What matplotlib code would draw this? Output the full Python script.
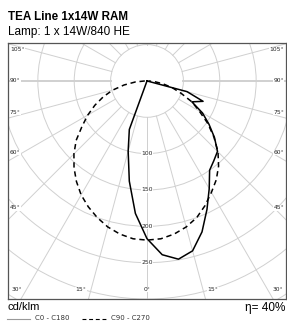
import numpy as np
import matplotlib.pyplot as plt
from matplotlib.patches import Circle
from matplotlib.lines import Line2D

# angulos gamma, en grados desde la vertical hacia abajo
angulos = np.arange(0, 95, 5)
c0 = [217, 240, 249, 242, 221, 195, 171, 150, 143, 137, 121, 104, 88, 68, 82, 57, 0, 0, 0]
c180 = [217, 183, 140, 100, 71, 0, 0, 0, 0, 0, 0, 0, 0, 0, 0, 0, 0, 0, 0]
c90 = [219, 218, 214, 208, 200, 189, 177, 166, 153, 138, 120, 102, 83, 68, 50, 36, 22, 10, 2]
c270 = [219, 218, 214, 208, 200, 191, 181, 169, 156, 142, 127, 109, 94, 79, 64, 49, 32, 16, 3]

anillos = [50, 100, 150, 200, 250, 300, 350]
etiquetas_r = [100, 150, 200, 250]
etiquetas_ang = [0, 15, 30, 45, 60, 75, 90, 105]

titulo = "TEA Line 1x14W RAM"
subtitulo = "Lamp: 1 x 14W/840 HE"
unidad = "cd/klm"
leyenda = ["C0 - C180", "C90 - C270"]
rendimiento = "\u03b7= 40%"

gris = "#d0d0d0"
k = 0.7277  # px por cd/klm
W, H = 287, 324


def to_xy(ang, r, lado):
    a = np.radians(np.asarray(ang, dtype=float))
    r = np.asarray(r, dtype=float)
    return lado * r * np.sin(a), -r * np.cos(a)


fig = plt.figure(figsize=(W / 100, H / 100), dpi=100)
ax = fig.add_axes([8 / W, 25 / H, 278 / W, 256 / H])
ax.set_xlim(-191, 191)
ax.set_ylim(-300, 52.2)
ax.set_xticks([])
ax.set_yticks([])
for s in ax.spines.values():
    s.set_color("#555555")
    s.set_linewidth(0.9)

# rejilla
for r in anillos:
    ax.add_patch(Circle((0, 0), r, fill=False, ec=gris, lw=0.7, zorder=1))
for g in range(0, 181, 15):
    for lado in (-1, 1):
        x, y = to_xy([g, g], [50, 400], lado)
        ax.plot(x, y, color=gris, lw=1.4 if g == 90 else 0.7, zorder=1)

for r in etiquetas_r:
    ax.text(0, -r, str(r), fontsize=4.3, ha="center", va="center", color="#222222",
            bbox=dict(fc="white", ec="none", pad=0.2), zorder=3)

# etiquetas de angulos
px = 1 / k
for g in etiquetas_ang:
    for lado in (-1, 1):
        if g == 0 and lado == 1:
            continue
        lab = "%d\u00b0" % g
        if g <= 30:
            yb = -(290 - 81) * px
            xb = 0 if g == 0 else -yb * np.tan(np.radians(g)) + 10 * px
            ax.text(lado * xb, yb, lab, fontsize=4.3, ha="center", va="center",
                    color="#222222", bbox=dict(fc="white", ec="none", pad=0.2), zorder=3)
        else:
            xl = 131 * px
            yl = -xl / np.tan(np.radians(g))
            if g < 90:
                yl += 4 * px
            elif g > 90:
                yl -= 4 * px
            ax.text(lado * 188.5, yl, lab, fontsize=4.3, ha="left" if lado < 0 else "right",
                    va="center", color="#222222", bbox=dict(fc="white", ec="none", pad=0.2), zorder=3)

# curvas
xa, ya = to_xy(angulos[::-1], c180[::-1], -1)
xb, yb = to_xy(angulos, c0, 1)
ax.plot(np.r_[xa, xb], np.r_[ya, yb], color="black", lw=1.1, zorder=5)
xa, ya = to_xy(angulos[::-1], c270[::-1], -1)
xb, yb = to_xy(angulos, c90, 1)
ax.plot(np.r_[xa, xb], np.r_[ya, yb], color="black", lw=1.1, ls=(0, (3.5, 2.5)), zorder=4)

# textos
fig.text(8 / W, 1 - 20.5 / H, titulo, fontsize=8.4, fontweight="bold", va="baseline",
         family="Liberation Sans")
fig.text(8 / W, 1 - 35 / H, subtitulo, fontsize=8.5, va="baseline", family="Liberation Sans")
fig.text(7 / W, 1 - 307 / H, unidad, fontsize=8, va="center", family="Liberation Sans")
fig.text(285 / W, 1 - 308 / H, rendimiento, fontsize=8.5, va="center", ha="right",
         family="Liberation Sans")

fig.add_artist(Line2D([7 / W, 30 / W], [1 - 318.5 / H] * 2, color="#999999", lw=0.8))
fig.text(35 / W, 1 - 318.5 / H, leyenda[0], fontsize=5, va="center", color="#333333")
fig.add_artist(Line2D([82 / W, 108 / W], [1 - 318.5 / H] * 2, color="black", lw=0.8,
                      ls=(0, (3.5, 2.5))))
fig.text(111 / W, 1 - 318.5 / H, leyenda[1], fontsize=5, va="center", color="#333333")

fig.savefig("out.png", dpi=100)
